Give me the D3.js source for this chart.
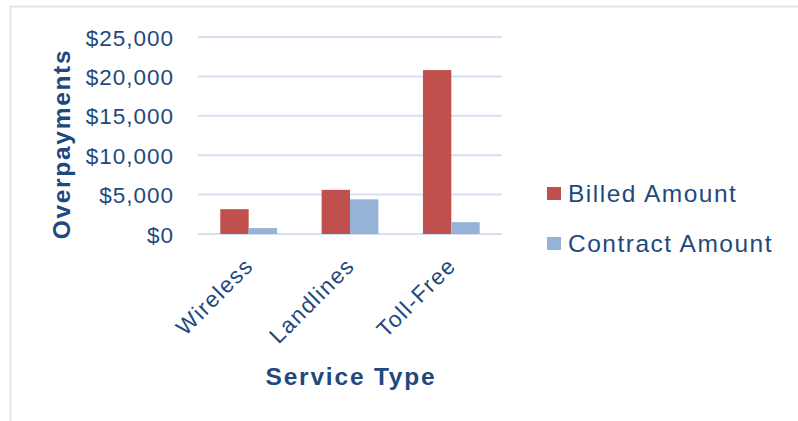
<!DOCTYPE html>
<html>
<head>
<meta charset="utf-8">
<script src="https://cdn.jsdelivr.net/npm/d3@7"></script>
<style>
  body { margin: 0; background: #fff; }
  text { font-family: "Liberation Sans", Arial, sans-serif; }
</style>
</head>
<body>
<div id="chart"></div>
<script>
// data
var categories = ["Wireless", "Landlines", "Toll-Free"];
var series = ["Billed Amount", "Contract Amount"];
var billed = [3150, 5600, 20800];
var contract = [750, 4400, 1500];
var y_ticks = [0, 5000, 10000, 15000, 20000, 25000];

var colors = ["#c0504d", "#95b3d7"];
var text_col = "#1f497d";

var W = 798, H = 421;
var margin = {top: 37, left: 198, right: 296, bottom: 187};
var width = W - margin.left - margin.right,
    height = H - margin.top - margin.bottom;

var svg = d3.select("#chart")
    .append("svg")
    .attr("width", W)
    .attr("height", H);

// light border round the chart area
svg.append("path")
    .attr("d", "M10.5," + H + " V6.5 H" + W)
    .attr("fill", "none")
    .attr("stroke", "#dce6f2")
    .attr("stroke-width", 2);

var canvas = svg.append("g")
    .attr("transform", "translate(" + margin.left + "," + margin.top + ")");

var scale_x = d3.scaleBand()
    .domain(categories)
    .range([0, width])
    .paddingInner(0.44)
    .paddingOuter(0.22);

var scale_s = d3.scaleBand()
    .domain(series)
    .range([0, scale_x.bandwidth()]);

var scale_y = d3.scaleLinear()
    .domain([0, 25000])
    .range([height, 0]);

// gridlines
canvas.append("g")
    .selectAll("line")
    .data(y_ticks)
    .enter()
    .append("line")
    .attr("x1", 0)
    .attr("x2", width)
    .attr("y1", function(d) { return scale_y(d) })
    .attr("y2", function(d) { return scale_y(d) })
    .attr("stroke", "#d3e1f2")
    .attr("stroke-width", 2);

// y axis labels
var fmt = d3.format("$,");
var yax = canvas.append("g")
    .call(d3.axisLeft(scale_y).tickValues(y_ticks).tickFormat(fmt).tickSize(0).tickPadding(24));
yax.select(".domain").remove();
yax.selectAll("text")
    .attr("fill", text_col)
    .style("font-size", "22.5px")
    .style("letter-spacing", "1px")
    .attr("dy", "0.36em");

// bars
var rows = categories.map(function(c, i) {
    return {cat: c, vals: [{s: series[0], v: billed[i]}, {s: series[1], v: contract[i]}]};
});

canvas.append("g")
    .selectAll("g")
    .data(rows)
    .enter()
    .append("g")
    .attr("transform", function(d) { return "translate(" + scale_x(d.cat) + ",0)" })
    .selectAll("rect")
    .data(function(d) { return d.vals })
    .enter()
    .append("rect")
    .attr("x", function(d) { return scale_s(d.s) })
    .attr("width", scale_s.bandwidth())
    .attr("y", function(d) { return scale_y(d.v) })
    .attr("height", function(d) { return height - scale_y(d.v) })
    .attr("fill", function(d, i) { return colors[i] });

// x labels, rotated
canvas.append("g")
    .selectAll("text")
    .data(categories)
    .enter()
    .append("text")
    .attr("transform", function(d) {
        return "translate(" + (scale_x(d) + scale_x.bandwidth() / 2 - 5) + "," + (height + 22) + ") rotate(-45)";
    })
    .attr("text-anchor", "end")
    .attr("dy", "0.7em")
    .attr("fill", text_col)
    .style("font-size", "22.5px")
    .style("letter-spacing", "1.5px")
    .text(function(d) { return d });

// axis titles
svg.append("text")
    .attr("transform", "translate(70,144) rotate(-90)")
    .attr("text-anchor", "middle")
    .attr("fill", text_col)
    .style("font-size", "24.5px")
    .style("font-weight", "bold")
    .style("letter-spacing", "1.7px")
    .text("Overpayments");

svg.append("text")
    .attr("x", 351)
    .attr("y", 385)
    .attr("text-anchor", "middle")
    .attr("fill", text_col)
    .style("font-size", "24.5px")
    .style("font-weight", "bold")
    .style("letter-spacing", "1.8px")
    .text("Service Type");

// legend
var legend = svg.append("g")
    .selectAll("g")
    .data(series)
    .enter()
    .append("g")
    .attr("transform", function(d, i) { return "translate(547," + (193 + i * 50) + ")" });

legend.append("rect")
    .attr("x", 0)
    .attr("y", -6)
    .attr("width", 14)
    .attr("height", 13)
    .attr("fill", function(d, i) { return colors[i] });

legend.append("text")
    .attr("x", 21)
    .attr("y", 0)
    .attr("dy", "0.36em")
    .attr("fill", text_col)
    .style("font-size", "24.5px")
    .style("letter-spacing", "1.5px")
    .text(function(d) { return d });
</script>
</body>
</html>
